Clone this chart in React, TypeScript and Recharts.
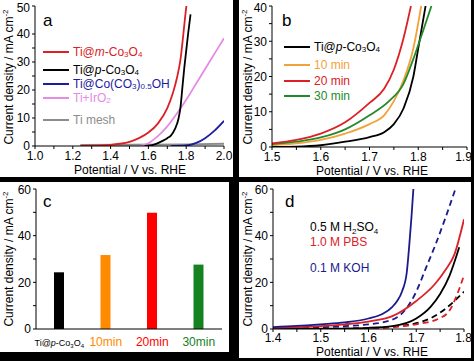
import React from "react";
import { LineChart, Line, XAxis, YAxis, BarChart, Bar, Cell } from "recharts";

// panel a: LSV curves, [potential V, current density mA cm-2]
const mCo3o4A = [[1.24, 0.05], [1.3, 0.1], [1.35, 0.2], [1.4, 0.4], [1.45, 0.8], [1.5, 1.5], [1.55, 2.8], [1.6, 4.8], [1.65, 8], [1.7, 13.5], [1.73, 19], [1.75, 24], [1.77, 31], [1.785, 40], [1.795, 46.5], [1.801, 50]];
const pCo3o4A = [[1.58, 0], [1.62, 0.3], [1.65, 1], [1.68, 2], [1.7, 2.8], [1.72, 3.8], [1.74, 6], [1.76, 10], [1.77, 14], [1.78, 21], [1.79, 28], [1.8, 34], [1.81, 40], [1.823, 47]];
const coCo3OhA = [[1.72, 0], [1.8, 0.2], [1.85, 1], [1.9, 2.8], [1.95, 5.5], [2.0, 9]];
const iro2A = [[1.56, 0.1], [1.6, 1], [1.65, 3.5], [1.7, 7], [1.75, 11.5], [1.8, 16.5], [1.85, 22], [1.9, 27.5], [1.95, 33], [2.0, 38.5]];
const tiMeshA = [[1.24, 0.4], [1.5, 0.45], [1.8, 0.6], [2.0, 0.8]];

// panel b: annealing time series
const pCo3o4B = [[1.5, 0], [1.55, 0.1], [1.6, 0.5], [1.65, 1.5], [1.7, 2.8], [1.73, 4.2], [1.75, 6.5], [1.77, 11], [1.79, 20], [1.8, 28], [1.815, 40]];
const min10B = [[1.5, 0.5], [1.55, 1], [1.6, 2], [1.65, 3.8], [1.7, 6.5], [1.73, 9], [1.75, 13], [1.77, 19], [1.79, 28], [1.806, 40]];
const min20B = [[1.5, 1], [1.55, 2], [1.6, 3.8], [1.65, 7], [1.7, 12.5], [1.73, 16.5], [1.75, 22], [1.77, 31], [1.785, 40]];
const min30B = [[1.5, 0.8], [1.55, 1.5], [1.6, 2.7], [1.65, 5], [1.7, 9], [1.74, 13], [1.77, 18], [1.79, 25], [1.81, 33], [1.827, 40]];

// panel c: current density at fixed potential
const samples = ["Ti@p-Co3O4", "10min", "20min", "30min"];
const sampleValues = [24.3, 31.7, 49.8, 27.6];
const sampleColors = ["#000000", "#ff8a00", "#ff0000", "#14821e"];

// panel d: electrolytes, solid / dashed
const h2so4Solid = [[1.4, 0], [1.5, 0.1], [1.6, 0.5], [1.65, 1.2], [1.7, 4.5], [1.73, 9.5], [1.75, 15], [1.77, 23], [1.79, 35]];
const h2so4Dash = [[1.4, 0], [1.6, 0.3], [1.65, 1], [1.7, 2.5], [1.73, 4.6], [1.76, 8.5], [1.78, 12], [1.8, 16]];
const pbsSolid = [[1.4, 0.5], [1.5, 1.2], [1.55, 2], [1.6, 3.2], [1.65, 5.5], [1.7, 12], [1.74, 19.5], [1.76, 25], [1.78, 32], [1.8, 47]];
const pbsDash = [[1.4, 0], [1.6, 0.3], [1.65, 0.8], [1.7, 2], [1.75, 4.7], [1.77, 8], [1.785, 14.5], [1.8, 23]];
const kohSolid = [[1.4, 0.8], [1.45, 1.3], [1.5, 2], [1.55, 2.8], [1.6, 4.5], [1.63, 6.5], [1.65, 9.5], [1.66, 12], [1.67, 16], [1.68, 24], [1.685, 35], [1.69, 48], [1.694, 60]];
const kohDash = [[1.4, 0.3], [1.5, 0.8], [1.6, 2], [1.65, 4], [1.68, 9], [1.7, 16], [1.72, 26], [1.74, 36], [1.76, 47], [1.782, 60]];

// ticks
const ticksAx = [1.0, 1.1, 1.2, 1.3, 1.4, 1.5, 1.6, 1.7, 1.8, 1.9, 2.0];
const ticksAy = [0, 5, 10, 15, 20, 25, 30, 35, 40, 45, 50];
const ticksBx = [1.5, 1.55, 1.6, 1.65, 1.7, 1.75, 1.8, 1.85, 1.9];
const ticksBy = [0, 5, 10, 15, 20, 25, 30, 35, 40];
const ticksCy = [0, 10, 20, 30, 40, 50, 60];
const ticksDx = [1.4, 1.45, 1.5, 1.55, 1.6, 1.65, 1.7, 1.75, 1.8];
const ticksDy = [0, 10, 20, 30, 40, 50, 60];

const RED = "#dc2026";
const BLUE = "#1c1ca0";
const PINK = "#e68ae6";
const GREY = "#8c8c8c";
const ORANGE = "#f2a23a";
const GREEN = "#238a2a";
const NAVY = "#1a1a8c";

const pts = (arr: number[][]) => arr.map(([v, j]) => ({ v, j }));
const tickStyle = { fill: "#000", fontSize: 12 };
const axisStroke = { stroke: "#000" };

const everyOther = (v: number) => (Math.round(v * 10) % 2 === 0 ? v.toFixed(1) : "");
const tenths = (v: number) => (Math.round(v * 100) % 10 === 0 ? v.toFixed(1) : "");
const by10 = (v: number) => (v % 10 === 0 ? String(v) : "");
const by20 = (v: number) => (v % 20 === 0 ? String(v) : "");

const yTitle = (x: number, y: number) => () => (
  <text x={x} y={y} transform={`rotate(-90 ${x} ${y})`} textAnchor="middle" fontSize={12} fill="#000">
    Current density / mA cm<tspan dy={-5} fontSize={8}>-2</tspan>
  </text>
);
const xTitle = (x: number, y: number) => () => (
  <text x={x} y={y} textAnchor="middle" fontSize={12} fill="#000">
    Potential / V vs. RHE
  </text>
);

const Sub = ({ children }: { children: React.ReactNode }) => (
  <span style={{ fontSize: 8, position: "relative", top: 3 }}>{children}</span>
);

function Key({ x, y, color, children }: { x: number; y: number; color: string; children: React.ReactNode }) {
  return (
    <div
      style={{
        position: "absolute", left: x, top: y - 7, height: 14, display: "flex", alignItems: "center",
        whiteSpace: "nowrap", color, fontSize: 12, lineHeight: "14px",
      }}
    >
      <span style={{ display: "inline-block", width: 26, height: 2, background: color, marginRight: 4 }} />
      {children}
    </div>
  );
}

function Note({ x, y, color, size = 12, children }: { x: number; y: number; color: string; size?: number; children: React.ReactNode }) {
  return (
    <div style={{ position: "absolute", left: x, top: y, color, fontSize: size, lineHeight: `${size}px`, whiteSpace: "nowrap" }}>
      {children}
    </div>
  );
}

const panel = (left: number, top: number, width: number, height: number): React.CSSProperties => ({
  position: "absolute", left, top, width, height, background: "#fff", overflow: "hidden",
});

const line = (data: number[][], color: string, dashed = false) => (
  <Line
    data={pts(data)}
    dataKey="j"
    type="monotone"
    stroke={color}
    strokeWidth={1.8}
    strokeDasharray={dashed ? "6 4" : undefined}
    dot={false}
    isAnimationActive={false}
  />
);

function CatTick(props: any) {
  const { x, payload, index } = props;
  if (index === 0) {
    return (
      <text x={x} y={164} textAnchor="middle" fontSize={9} fill="#000">
        Ti@<tspan fontStyle="italic">p</tspan>-Co<tspan fontSize={6} dy={2}>3</tspan>
        <tspan dy={-2}>O</tspan><tspan fontSize={6} dy={2}>4</tspan>
      </text>
    );
  }
  return (
    <text x={x} y={164} textAnchor="middle" fontSize={12} fill={sampleColors[index]}>
      {payload.value}
    </text>
  );
}

export default function App() {
  const barData = samples.map((name, i) => ({ name, j: sampleValues[i] }));
  return (
    <div
      style={{
        position: "absolute", left: 0, top: 0, width: 474, height: 361, background: "#000",
        fontFamily: "'Liberation Sans', Arial, sans-serif", overflow: "hidden",
      }}
    >
      {/* a */}
      <div style={panel(0, 0, 233, 177)}>
        <LineChart width={233} height={177} margin={{ top: 6, right: 9, bottom: 0, left: 0 }}>
          <XAxis type="number" dataKey="v" domain={[1.0, 2.0]} ticks={ticksAx} tickFormatter={everyOther}
            allowDataOverflow height={31} tick={tickStyle} tickSize={3} tickMargin={2} axisLine={axisStroke} tickLine={axisStroke}
            label={{ content: xTitle(130, 174) }} />
          <XAxis xAxisId="t" orientation="top" type="number" domain={[1.0, 2.0]} height={0} tick={false} tickLine={false} axisLine={axisStroke} />
          <YAxis type="number" domain={[0, 50]} ticks={ticksAy} tickFormatter={by10} allowDataOverflow width={35}
            tick={tickStyle} tickSize={3} axisLine={axisStroke} tickLine={axisStroke} label={{ content: yTitle(13, 77) }} />
          <YAxis yAxisId="r" orientation="right" domain={[0, 50]} width={0} tick={false} tickLine={false} axisLine={axisStroke} />
          {line(tiMeshA, GREY)}
          {line(coCo3OhA, BLUE)}
          {line(iro2A, PINK)}
          {line(pCo3o4A, "#000")}
          {line(mCo3o4A, RED)}
        </LineChart>
        <Note x={43} y={12} color="#000" size={17}>a</Note>
        <Key x={43} y={52} color={RED}>Ti@<i>m</i>-Co<Sub>3</Sub>O<Sub>4</Sub></Key>
        <Key x={43} y={70} color="#000">Ti@<i>p</i>-Co<Sub>3</Sub>O<Sub>4</Sub></Key>
        <Key x={43} y={84} color={BLUE}>Ti@Co(CO<Sub>3</Sub>)<Sub>0.5</Sub>OH</Key>
        <Key x={43} y={98} color={PINK}>Ti+IrO<Sub>2</Sub></Key>
        <Key x={43} y={120} color={GREY}>Ti mesh</Key>
      </div>

      {/* b */}
      <div style={panel(239, 0, 232, 177)}>
        <LineChart width={232} height={177} margin={{ top: 6, right: 4, bottom: 0, left: 0 }}>
          <XAxis type="number" dataKey="v" domain={[1.5, 1.9]} ticks={ticksBx} tickFormatter={tenths}
            allowDataOverflow height={30} tick={tickStyle} tickSize={3} tickMargin={2} axisLine={axisStroke} tickLine={axisStroke}
            label={{ content: xTitle(133, 175) }} />
          <XAxis xAxisId="t" orientation="top" type="number" domain={[1.5, 1.9]} height={0} tick={false} tickLine={false} axisLine={axisStroke} />
          <YAxis type="number" domain={[0, 40]} ticks={ticksBy} tickFormatter={by10} allowDataOverflow width={33}
            tick={tickStyle} tickSize={3} axisLine={axisStroke} tickLine={axisStroke} label={{ content: yTitle(13, 77) }} />
          <YAxis yAxisId="r" orientation="right" domain={[0, 40]} width={0} tick={false} tickLine={false} axisLine={axisStroke} />
          {line(pCo3o4B, "#000")}
          {line(min10B, ORANGE)}
          {line(min30B, GREEN)}
          {line(min20B, RED)}
        </LineChart>
        <Note x={43} y={12} color="#000" size={17}>b</Note>
        <Key x={45} y={47} color="#000">Ti@<i>p</i>-Co<Sub>3</Sub>O<Sub>4</Sub></Key>
        <Key x={45} y={65} color={ORANGE}>10 min</Key>
        <Key x={45} y={81} color={RED}>20 min</Key>
        <Key x={45} y={96} color={GREEN}>30 min</Key>
      </div>

      {/* c */}
      <div style={panel(0, 182, 229, 170)}>
        <BarChart width={229} height={170} data={barData} margin={{ top: 7, right: 7, bottom: 0, left: 0 }}>
          <XAxis dataKey="name" height={23} tick={<CatTick />} tickLine={false} axisLine={axisStroke} interval={0} />
          <XAxis xAxisId="t" orientation="top" dataKey="name" height={0} tick={false} tickLine={false} axisLine={axisStroke} />
          <YAxis type="number" domain={[0, 60]} ticks={ticksCy} tickFormatter={by20} width={36}
            tick={tickStyle} tickSize={3} axisLine={axisStroke} tickLine={axisStroke} label={{ content: yTitle(13, 77) }} />
          <YAxis yAxisId="r" orientation="right" domain={[0, 60]} width={0} tick={false} tickLine={false} axisLine={axisStroke} />
          <Bar dataKey="j" barSize={10} isAnimationActive={false}>
            {barData.map((d, i) => (
              <Cell key={d.name} fill={sampleColors[i]} />
            ))}
          </Bar>
        </BarChart>
        <Note x={43} y={11} color="#000" size={17}>c</Note>
      </div>

      {/* d */}
      <div style={panel(239, 182, 232, 176)}>
        <LineChart width={232} height={176} margin={{ top: 7, right: 7, bottom: 0, left: 0 }}>
          <XAxis type="number" dataKey="v" domain={[1.4, 1.8]} ticks={ticksDx} tickFormatter={tenths}
            allowDataOverflow height={29} tick={tickStyle} tickSize={3} tickMargin={1} axisLine={axisStroke} tickLine={axisStroke}
            label={{ content: xTitle(133, 174) }} />
          <XAxis xAxisId="t" orientation="top" type="number" domain={[1.4, 1.8]} height={0} tick={false} tickLine={false} axisLine={axisStroke} />
          <YAxis type="number" domain={[0, 60]} ticks={ticksDy} tickFormatter={by20} allowDataOverflow width={34}
            tick={tickStyle} tickSize={3} axisLine={axisStroke} tickLine={axisStroke} label={{ content: yTitle(13, 77) }} />
          <YAxis yAxisId="r" orientation="right" domain={[0, 60]} width={0} tick={false} tickLine={false} axisLine={axisStroke} />
          {line(h2so4Dash, "#000", true)}
          {line(pbsDash, RED, true)}
          {line(kohDash, NAVY, true)}
          {line(h2so4Solid, "#000")}
          {line(pbsSolid, RED)}
          {line(kohSolid, NAVY)}
        </LineChart>
        <Note x={46} y={11} color="#000" size={17}>d</Note>
        <Note x={71} y={39} color="#000">0.5 M H<Sub>2</Sub>SO<Sub>4</Sub></Note>
        <Note x={71} y={54} color={RED}>1.0 M PBS</Note>
        <Note x={71} y={80} color={NAVY}>0.1 M KOH</Note>
      </div>
    </div>
  );
}
